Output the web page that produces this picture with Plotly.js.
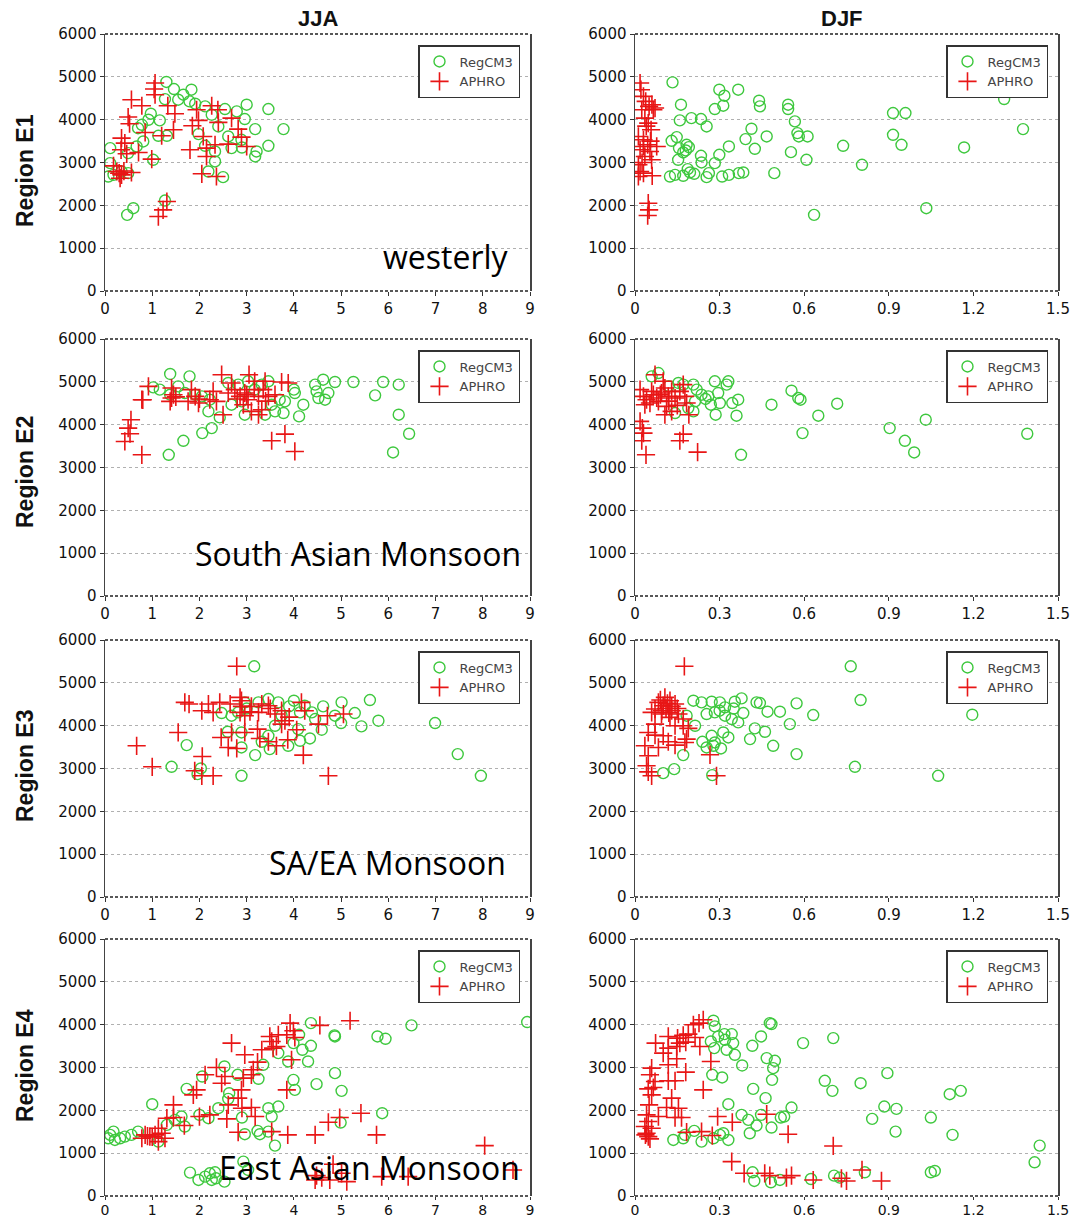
<!DOCTYPE html>
<html><head><meta charset="utf-8">
<script src="https://cdn.plot.ly/plotly-3.0.1.min.js"></script>
<style>body{margin:0;background:#fff}#chart{width:1072px;height:1220px}</style>
</head><body><div id="chart"></div>
<script>
// ---------- DATA ----------
const seasons = ["JJA", "DJF"];
const regions = ["Region E1", "Region E2", "Region E3", "Region E4"];
const regimeLabels = ["westerly", "South Asian Monsoon", "SA/EA Monsoon", "East Asian Monsoon"];
const seriesNames = ["RegCM3", "APHRO"];
const yTicks = [0, 1000, 2000, 3000, 4000, 5000, 6000];
const xTicksJJA = [0, 1, 2, 3, 4, 5, 6, 7, 8, 9];
const xTicksDJF = [0, 0.3, 0.6, 0.9, 1.2, 1.5];

// JJA Region E1
const jjaE1RegX = [1.3,1.46,1.83,1.66,1.27,1.55,1.79,1.91,2.12,2.54,3.0,3.46,2.79,2.26,0.97,1.16,0.92,0.78,2.96,3.18,3.78,2.4,1.98,1.13,1.31,2.61,2.89,2.68,2.12,2.33,3.21,3.18,3.46,2.33,2.19,2.5,0.81,0.67,0.49,0.11,0.11,0.07,0.18,0.35,0.49,1.02,0.6,0.47,1.27,0.7,2.9];
const jjaE1RegY = [4880,4715,4700,4583,4480,4466,4427,4372,4310,4248,4350,4248,4193,4115,4139,3983,3998,3881,4014,3780,3780,3842,3663,3624,3624,3608,3530,3336,3390,3258,3258,3141,3390,3024,2790,2658,3492,3375,3219,3336,2985,2673,2712,2790,2751,3063,1933,1777,2112,3800,3350];
const jjaE1AphX = [1.06,1.04,1.06,0.56,0.78,0.49,0.52,1.33,1.48,1.94,2.26,2.39,1.98,1.85,2.4,2.68,2.82,2.89,3.0,2.61,2.33,2.08,2.15,1.8,2.15,2.05,2.36,1.45,1.2,0.85,0.35,0.34,0.46,0.71,0.99,0.18,0.25,0.35,0.56,0.32,0.42,1.31,1.23,1.13,0.3,0.4];
const jjaE1AphY = [4856,4715,4583,4466,4325,4061,3905,4325,4139,4232,4325,4232,3983,3858,3936,4037,3780,3593,3375,3429,3414,3608,3336,3297,3141,2736,2673,3764,3624,3702,3570,3297,3203,3234,3079,2922,2790,2712,2767,2634,3453,2089,1894,1738,2750,2800];

// DJF Region E1
const djfE1RegX = [0.133,0.163,0.159,0.2,0.234,0.254,0.13,0.148,0.156,0.183,0.18,0.191,0.171,0.153,0.234,0.299,0.317,0.283,0.313,0.299,0.333,0.366,0.392,0.413,0.425,0.44,0.443,0.467,0.494,0.543,0.543,0.567,0.576,0.581,0.612,0.553,0.608,0.635,0.738,0.805,0.915,0.959,0.915,0.945,1.033,1.167,1.309,1.376,0.124,0.142,0.171,0.195,0.21,0.254,0.262,0.283,0.309,0.333,0.368,0.384,0.187,0.236];
const djfE1RegY = [4871,4349,3983,4037,4014,3842,3507,3593,3336,3414,3281,3359,3234,3063,3157,4700,4559,4248,4326,3180,3375,4700,3546,3788,3320,4442,4310,3608,2751,4349,4248,3960,3686,3608,3608,3242,3063,1777,3390,2946,4154,4154,3647,3414,1933,3351,4482,3780,2673,2712,2689,2767,2736,2658,2751,2985,2673,2712,2751,2767,2845,3001];
const djfE1AphX = [0.018,0.021,0.03,0.038,0.05,0.065,0.024,0.035,0.047,0.057,0.012,0.03,0.045,0.077,0.018,0.053,0.035,0.059,0.012,0.018,0.012,0.03,0.061,0.047,0.05,0.045,0.03,0.071,0.06,0.04,0.025,0.055];
const djfE1AphY = [4856,4700,4544,4427,4310,4232,4232,4037,3920,3764,3608,3530,3414,3375,3297,3258,3141,3063,2946,2790,2673,2751,2689,2050,1894,1761,3375,4271,4350,3850,3000,3500];

// JJA Region E2
const jjaE2RegX = [1.38,1.79,1.02,1.16,1.38,1.55,1.69,1.91,2.05,2.22,2.19,2.43,2.26,2.06,1.66,1.35,2.61,2.82,3.03,3.17,3.32,3.46,2.96,3.39,3.6,3.78,3.81,4.0,4.02,4.2,4.11,4.45,4.62,4.87,4.52,4.66,4.73,4.48,5.26,5.89,5.72,6.22,6.22,6.44,6.1,3.7,3.53,2.89,2.68];
const jjaE2RegY = [5183,5128,4871,4817,4700,4895,4739,4700,4661,4583,4310,4170,3920,3803,3624,3297,4973,4934,5012,4817,4934,5012,4232,4232,4310,4271,4544,4817,4739,4466,4193,4934,5050,4996,4622,4583,4739,4778,4996,4996,4684,4934,4232,3788,3351,4583,4466,4544,4466];
const jjaE2AphX = [2.47,3.05,2.68,3.17,3.39,3.74,3.88,0.92,0.78,1.41,1.41,1.38,1.83,1.91,1.76,1.98,2.29,2.22,2.36,2.61,2.75,2.86,2.96,3.03,3.16,3.25,3.35,3.46,3.6,2.93,3.1,3.25,3.32,2.5,0.55,0.49,0.53,0.42,0.78,3.53,3.81,4.02,1.5,2.0,2.8,3.0,3.4,0.8,1.45];
const jjaE2AphY = [5167,5167,4973,5012,5012,4996,4973,4895,4583,4856,4622,4544,4817,4661,4544,4505,4778,4583,4544,4739,4817,4661,4739,4583,4817,4661,4817,4661,4700,4466,4310,4232,4349,4232,4115,3920,3788,3608,3297,3624,3780,3375,4650,4600,4600,4700,4550,4580,4700];

// DJF Region E2
const djfE2RegX = [0.059,0.083,0.154,0.171,0.207,0.219,0.236,0.26,0.269,0.283,0.295,0.301,0.331,0.325,0.345,0.366,0.36,0.286,0.213,0.189,0.207,0.142,0.376,0.484,0.555,0.579,0.587,0.65,0.594,0.717,0.903,0.957,0.99,1.031,1.391,0.25,0.12];
const djfE2RegY = [5128,5206,4973,4934,4934,4817,4700,4661,4466,5012,4739,4505,5012,4934,4505,4583,4209,4232,4544,4388,4310,4271,3297,4466,4793,4622,4583,4209,3803,4489,3920,3624,3351,4115,3788,4600,4900];
const djfE2AphX = [0.071,0.018,0.03,0.041,0.059,0.077,0.094,0.106,0.118,0.13,0.142,0.159,0.177,0.1,0.083,0.112,0.106,0.13,0.171,0.183,0.035,0.053,0.018,0.026,0.03,0.024,0.039,0.159,0.171,0.191,0.222,0.09,0.12,0.065,0.15];
const djfE2AphY = [5167,4817,4661,4583,4778,4622,4739,4856,4661,4778,4622,4778,4661,5012,4544,4427,4232,4310,4934,4505,4466,4505,4076,3920,3803,3624,3297,3624,3780,4232,3359,4700,4550,4700,4450];

// JJA Region E3
const jjaE3RegX = [3.16,5.61,5.01,5.29,5.79,5.43,5.0,6.99,7.47,7.96,4.62,4.59,4.34,4.13,3.88,3.49,3.18,2.89,2.89,1.96,2.03,1.41,1.73,2.6,2.89,3.46,3.25,3.67,4.0,4.23,4.38,4.45,4.13,3.74,3.46,3.32,2.68,2.47,2.96,2.82,3.6,4.09,4.87,3.0,3.9];
const jjaE3RegY = [5386,4598,4544,4294,4115,3983,4061,4061,3336,2829,4450,3905,3702,3647,3530,3453,3313,3492,2829,2868,3001,3040,3546,3858,3842,4622,4544,4544,4583,4466,4310,4154,4310,4232,3764,3624,4232,4294,4544,4310,3998,3920,4232,4400,4450];
const jjaE3AphX = [2.79,1.69,1.78,2.05,2.19,2.29,2.43,2.65,2.86,2.89,2.86,3.07,3.25,3.32,3.46,3.6,3.74,3.81,4.16,4.23,4.52,4.71,5.05,1.55,2.46,2.68,2.96,3.23,3.28,3.46,3.63,3.87,4.06,4.2,2.61,2.79,2.06,0.67,1.0,1.9,2.05,2.29,4.73,3.74,2.96,2.9,3.1,3.5,3.9];
const jjaE3AphY = [5386,4544,4505,4349,4505,4310,4544,4505,4661,4583,4310,4325,4310,4505,4466,4271,4349,4115,4544,4349,4037,4232,4271,3842,3725,3842,3842,3920,3702,3624,3530,3671,3905,3313,3492,3468,3281,3530,3040,2946,2829,2829,2829,4037,4232,4450,4450,4400,4200];

// DJF Region E3
const djfE3RegX = [0.765,0.8,1.196,1.075,0.78,0.573,0.632,0.573,0.549,0.49,0.461,0.408,0.425,0.514,0.47,0.431,0.443,0.378,0.354,0.384,0.207,0.236,0.272,0.301,0.319,0.254,0.283,0.319,0.343,0.366,0.313,0.331,0.283,0.272,0.239,0.254,0.278,0.305,0.213,0.183,0.171,0.139,0.1,0.274,0.3,0.35];
const djfE3RegY = [5386,4598,4255,2829,3040,3336,4248,4521,4037,3530,3858,3686,3936,4326,4326,4544,4528,4637,4560,4294,4583,4544,4560,4544,4427,4271,4310,4232,4154,4076,3842,3725,3608,3764,3624,3492,3530,3468,3998,4232,3313,2985,2892,2845,4350,4400];
const djfE3AphX = [0.175,0.106,0.083,0.1,0.124,0.142,0.13,0.071,0.094,0.154,0.171,0.059,0.124,0.171,0.142,0.071,0.047,0.071,0.1,0.118,0.142,0.083,0.035,0.047,0.189,0.183,0.177,0.266,0.041,0.047,0.059,0.289,0.09,0.11,0.13,0.115,0.095,0.15,0.12];
const djfE3AphY = [5386,4661,4544,4466,4583,4505,4349,4388,4271,4271,4154,4310,4193,3998,3998,4037,3842,3780,3764,3624,3546,3492,3530,3297,3936,3686,3608,3320,3063,2922,2829,2829,4600,4400,4450,4520,4350,4400,4300];

// JJA Region E4
const jjaE4RegX = [8.94,6.49,5.77,5.94,4.86,4.87,4.36,4.11,3.99,4.18,4.36,4.3,3.67,3.88,3.35,4.87,5.01,4.48,3.99,4.02,2.53,2.81,3.25,2.06,1.73,1.0,2.63,2.61,2.4,3.46,3.67,3.53,5.87,4.99,2.9,2.96,3.28,3.46,3.23,3.6,2.19,2.0,1.62,1.48,1.69,1.31,0.7,0.56,0.42,0.18,0.11,0.21,0.07,0.32,1.13,1.8,1.98,2.12,2.22,2.33,2.26,2.53,2.35,2.93,3.03];
const jjaE4RegY = [4061,3983,3725,3671,3749,3725,4037,3764,3570,3414,3507,3141,3336,3141,3063,2868,2455,2611,2712,2478,3024,2829,2736,2790,2502,2143,2400,2268,2050,2050,2089,1855,1933,1715,1832,1442,1442,1504,1520,1177,1816,1894,1855,1777,1621,1660,1504,1426,1387,1504,1426,1309,1348,1348,1270,546,374,452,530,553,374,335,413,803,608];
const jjaE4AphX = [5.19,4.55,3.92,3.99,4.02,3.85,3.67,3.49,3.53,3.63,3.56,2.68,3.32,2.96,3.23,3.95,3.14,3.1,2.93,2.54,2.36,2.47,2.12,2.89,2.82,2.61,2.9,3.1,3.18,2.58,1.94,1.87,2.22,2.0,1.45,1.31,1.45,1.13,1.68,0.85,0.95,1.06,1.2,1.27,1.13,0.78,3.85,2.82,3.53,3.87,4.45,4.73,4.97,5.42,5.75,8.04,8.64,4.45,4.59,4.76,5.12,4.83,5.86,6.42,5.01,4.48,0.9,1.0];
const jjaE4AphY = [4092,3983,4037,3858,3702,3764,3764,3725,3608,3492,3453,3570,3414,3297,3125,3180,2946,2829,2751,2790,3001,2634,2829,2478,2284,2128,2050,2065,1855,1800,2478,2362,1894,1855,2128,1816,1832,1582,1645,1426,1387,1426,1465,1348,1270,1348,2478,1489,1504,1426,1426,1722,1832,1933,1426,1177,608,374,429,374,335,740,452,452,530,475,1400,1380];

// DJF Region E4
const djfE4RegX = [0.278,0.283,0.269,0.281,0.295,0.317,0.319,0.343,0.348,0.325,0.354,0.38,0.416,0.447,0.478,0.484,0.467,0.496,0.49,0.486,0.274,0.309,0.419,0.463,0.596,0.703,0.673,0.7,0.8,0.895,0.884,0.927,0.841,0.924,1.049,1.116,1.155,1.126,1.435,1.417,1.049,1.063,0.815,0.706,0.726,0.624,0.514,0.482,0.417,0.423,0.331,0.378,0.402,0.431,0.407,0.447,0.484,0.517,0.529,0.555,0.136,0.171,0.177,0.21,0.236,0.278,0.301,0.313,0.331];
const djfE4RegY = [4092,3960,3608,3453,3725,3780,3647,3780,3570,3414,3297,3047,3507,3725,4037,4014,3219,3157,2985,2712,2829,2767,2502,2284,3570,3686,2689,2455,2634,2868,2089,2034,1800,1504,1832,2377,2455,1426,1177,787,553,585,553,475,429,397,374,320,553,351,2143,1894,1777,1645,1465,1894,1598,1832,1855,2065,1309,1348,1426,1520,1270,1348,1426,1465,1309];
const djfE4AphX = [0.242,0.227,0.207,0.189,0.213,0.171,0.151,0.159,0.148,0.18,0.23,0.118,0.073,0.118,0.1,0.148,0.269,0.118,0.18,0.059,0.053,0.118,0.142,0.071,0.047,0.242,0.065,0.059,0.13,0.112,0.154,0.05,0.041,0.083,0.142,0.165,0.047,0.059,0.035,0.183,0.236,0.274,0.293,0.345,0.467,0.543,0.703,0.343,0.387,0.46,0.478,0.537,0.555,0.632,0.732,0.75,0.805,0.874,0.037,0.047,0.053,0.041];
const djfE4AphY = [4115,4037,3998,3780,3702,3749,3686,3570,3492,3593,3492,3725,3570,3453,3336,3203,3141,3063,2892,2985,2829,2689,2689,2673,2502,2478,2533,2362,2284,2065,2050,2128,1894,1855,1832,1832,1738,1582,1621,1489,1504,1411,1855,1722,1910,1442,1169,803,530,530,475,429,475,374,413,351,608,351,1426,1387,1333,1465];

// ---------- BUILD ----------
const panels = [
  [jjaE1RegX,jjaE1RegY,jjaE1AphX,jjaE1AphY],
  [djfE1RegX,djfE1RegY,djfE1AphX,djfE1AphY],
  [jjaE2RegX,jjaE2RegY,jjaE2AphX,jjaE2AphY],
  [djfE2RegX,djfE2RegY,djfE2AphX,djfE2AphY],
  [jjaE3RegX,jjaE3RegY,jjaE3AphX,jjaE3AphY],
  [djfE3RegX,djfE3RegY,djfE3AphX,djfE3AphY],
  [jjaE4RegX,jjaE4RegY,jjaE4AphX,jjaE4AphY],
  [djfE4RegX,djfE4RegY,djfE4AphX,djfE4AphY]
];

const W = 1072, H = 1220;
const colPx = [[105, 530], [635, 1058]];
const rowPx = [[34, 291], [339, 596], [640, 897], [939, 1196]];
const legendRight = [520, 1048];
const green = 'rgb(62,200,62)';
const red = 'rgb(232,22,22)';
const tickFont = {family: 'DejaVu Sans, Arial, sans-serif', size: 15, color: '#111'};
const tickFontBottom = {family: 'DejaVu Sans, Arial, sans-serif', size: 14, color: '#111'};

const traces = [];
const layout = {
  width: W, height: H,
  margin: {l: 0, r: 0, t: 0, b: 0},
  paper_bgcolor: '#fff', plot_bgcolor: '#fff',
  showlegend: true,
  annotations: [], shapes: []
};

panels.forEach((p, i) => {
  const n = i + 1;
  const r = Math.floor(i / 2), c = i % 2;
  const xs = n === 1 ? '' : String(n);
  const legKey = n === 1 ? 'legend' : 'legend' + n;
  traces.push({
    type: 'scatter', mode: 'markers', x: p[0], y: p[1],
    xaxis: 'x' + xs, yaxis: 'y' + xs, name: seriesNames[0], legend: legKey,
    marker: {symbol: 'circle-open', size: 11, color: green, line: {width: 1.4, color: green}}
  });
  traces.push({
    type: 'scatter', mode: 'markers', x: p[2], y: p[3],
    xaxis: 'x' + xs, yaxis: 'y' + xs, name: seriesNames[1], legend: legKey,
    marker: {symbol: 'cross-thin-open', size: 13, color: red, line: {width: 1.6, color: red}}
  });
  const xt = c === 0 ? xTicksJJA : xTicksDJF;
  const isBottom = r === 3;
  layout['xaxis' + xs] = {
    domain: [colPx[c][0] / W, colPx[c][1] / W],
    anchor: 'y' + xs,
    range: [0, c === 0 ? 9 : 1.5],
    tickvals: xt, ticktext: xt.map(v => String(v)),
    ticks: 'outside', ticklen: isBottom ? 3 : 4, tickwidth: 1, tickcolor: '#333',
    ticklabelstandoff: isBottom ? -2 : 0,
    showline: false, showgrid: false, zeroline: false,
    tickfont: isBottom ? tickFontBottom : tickFont, fixedrange: true
  };
  layout['yaxis' + xs] = {
    domain: [1 - rowPx[r][1] / H, 1 - rowPx[r][0] / H],
    anchor: 'x' + xs,
    range: [0, 6000],
    tickvals: yTicks, ticktext: yTicks.map(v => String(v)),
    ticks: 'outside', ticklen: 4, tickwidth: 1, tickcolor: '#333',
    showline: true, linecolor: '#444', linewidth: 1.5, mirror: true,
    showgrid: true, gridcolor: '#b0b0b0', griddash: 'dot', gridwidth: 1,
    zeroline: false, tickfont: tickFont, fixedrange: true
  };
  layout[legKey] = {
    x: legendRight[c] / W, y: 1 - (rowPx[r][0] + 11) / H,
    xanchor: 'right', yanchor: 'top', xref: 'paper', yref: 'paper',
    bgcolor: '#fff', bordercolor: '#333', borderwidth: 1.5,
    font: {family: 'DejaVu Sans, Arial, sans-serif', size: 13, color: '#444'},
    itemwidth: 30, tracegroupgap: 0, traceorder: 'normal'
  };
  // dashed top & bottom borders
  [0, 1].forEach(yy => {
    layout.shapes.push({
      type: 'line', xref: 'x' + xs + ' domain', yref: 'y' + xs + ' domain',
      x0: 0, x1: 1, y0: yy, y1: yy,
      line: {color: '#222', width: 1.3, dash: '3px,2px'}
    });
  });
});

// column titles
const titleFont = {family: 'Liberation Sans, Arial, sans-serif', size: 22, color: '#111'};
seasons.forEach((s, c) => {
  layout.annotations.push({
    text: '<b>' + s + '</b>', xref: 'paper', yref: 'paper',
    x: ((colPx[c][0] + colPx[c][1]) / 2 + (c === 0 ? 0 : -5)) / W, y: 1 - 18 / H,
    xanchor: 'center', yanchor: 'middle', showarrow: false, font: titleFont
  });
});

// row labels
const rowLabelCenters = [171, 472, 766, 1066];
regions.forEach((t, r) => {
  layout.annotations.push({
    text: '<b>' + t + '</b>', xref: 'paper', yref: 'paper',
    x: 25 / W, y: 1 - rowLabelCenters[r] / H, textangle: -90,
    xanchor: 'center', yanchor: 'middle', showarrow: false,
    font: {family: 'Liberation Sans, Arial, sans-serif', size: 23, color: '#111'}
  });
});

// regime labels on left panels
const regimeRight = [511, 523, 508, 522];
const regimeMid = [256, 553, 862, 1167];
regimeLabels.forEach((t, r) => {
  layout.annotations.push({
    text: t, xref: 'paper', yref: 'paper',
    x: regimeRight[r] / W, y: 1 - regimeMid[r] / H,
    xanchor: 'right', yanchor: 'middle', showarrow: false,
    font: {family: 'Open Sans, Noto Sans, sans-serif', size: 32, color: '#000'}
  });
});

Plotly.newPlot('chart', traces, layout, {displayModeBar: false, staticPlot: true});
</script>
</body></html>
